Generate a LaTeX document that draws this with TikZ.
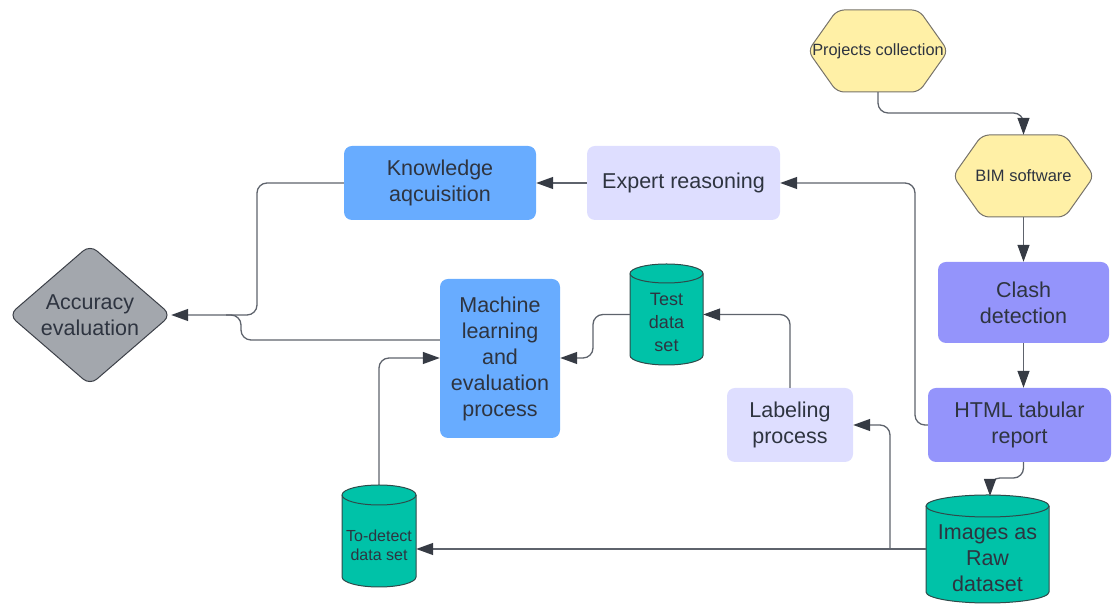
\documentclass[tikz,border=0pt]{standalone}
\usepackage{fontspec}
\setmainfont{Liberation Sans}
\usetikzlibrary{arrows.meta,calc}

\definecolor{txt}{HTML}{2E3440}
\definecolor{wire}{HTML}{5E636C}
\definecolor{tipc}{HTML}{363B44}
\definecolor{hexfill}{HTML}{FFF0A6}
\definecolor{hexline}{HTML}{77736A}
\definecolor{bluebox}{HTML}{68ACFF}
\definecolor{purplebox}{HTML}{9494FB}
\definecolor{lilacbox}{HTML}{DEDEFF}
\definecolor{dbfill}{HTML}{00C2A8}
\definecolor{dbline}{HTML}{2F4A4A}
\definecolor{diafill}{HTML}{A3A7AD}
\definecolor{dialine}{HTML}{3C4048}

% cylinder outline: centre x, centre y, width, height, ellipse radius
\newcommand\dbshape[5]{%
  \begin{scope}[shift={(#1,#2)}]
    \filldraw[fill=dbfill,draw=dbline,line width=1pt]
      (-#3/2,#4/2-#5) -- (-#3/2,-#4/2+#5)
      arc[start angle=180,end angle=360,x radius=#3/2,y radius=#5]
      -- (#3/2,#4/2-#5)
      arc[start angle=0,end angle=180,x radius=#3/2,y radius=#5] -- cycle;
    \draw[draw=dbline,line width=1pt] (-#3/2,#4/2-#5)
      arc[start angle=180,end angle=360,x radius=#3/2,y radius=#5];
  \end{scope}}

% hexagon outline: centre x, centre y, width, height, slant
\newcommand\hexshape[5]{%
  \begin{scope}[shift={(#1,#2)}]
    \filldraw[fill=hexfill,draw=hexline,line width=1pt,rounded corners=7pt]
      (-#3/2,0) -- (-#3/2+#5,#4/2) -- (#3/2-#5,#4/2) -- (#3/2,0)
      -- (#3/2-#5,-#4/2) -- (-#3/2+#5,-#4/2) -- cycle;
  \end{scope}}

\tikzset{
  bigfont/.style={font=\fontsize{21.5}{26}\selectfont},
  box/.style={rectangle,rounded corners=8pt,inner sep=0pt,align=center,
    text=txt,bigfont},
  frame/.style={rectangle,inner sep=0pt,align=center,text=txt},
  wire/.style={draw=wire,line width=1.3pt,rounded corners=10pt},
  arr/.style={wire,-{Triangle[length=17pt,width=12pt,color=tipc]}},
}

\begin{document}
\begin{tikzpicture}[x=1pt,y=1pt]
\useasboundingbox (0,0) rectangle (1112,604);

% ---- drawn outlines for the non-rectangular shapes ----
\hexshape{878}{553}{140}{82}{29}
\hexshape{1023.5}{428}{141}{82}{29}
\dbshape{987.5}{55}{123}{108}{11}
\dbshape{666.5}{289.5}{73}{101}{9.5}
\dbshape{379}{68}{74}{102}{10}
\filldraw[fill=diafill,draw=dialine,line width=1pt,rounded corners=9pt]
  (9,289) -- (90,359) -- (171,289) -- (90,219) -- cycle;

% ---- nodes ----
\node[frame,minimum width=140pt,minimum height=82pt,
  font=\fontsize{16.3}{19}\selectfont] (proj) at (878,553) {Projects collection};
\node[frame,minimum width=141pt,minimum height=82pt,
  font=\fontsize{16.5}{19}\selectfont] (bim) at (1023.5,428) {BIM software};
\node[box,fill=purplebox,minimum width=171pt,minimum height=81pt]
  (clash) at (1023.5,301.5) {Clash\\detection};
\node[box,fill=purplebox,minimum width=183pt,minimum height=74pt]
  (html) at (1019.5,179) {HTML tabular\\report};
\node[frame,minimum width=123pt,minimum height=108pt,
  label={[align=center,text=txt,bigfont,yshift=-9pt]center:{Images as\\Raw\\dataset}}]
  (images) at (987.5,55) {};
\node[box,fill=lilacbox,minimum width=126pt,minimum height=74pt]
  (label) at (790,179) {Labeling\\process};
\node[frame,minimum width=73pt,minimum height=101pt,
  label={[align=center,text=txt,font=\fontsize{18}{23}\selectfont,yshift=-8pt]center:{Test\\data\\set}}]
  (test) at (666.5,289.5) {};
\node[box,fill=bluebox,minimum width=120pt,minimum height=159pt]
  (ml) at (500,245.5) {Machine\\learning\\and\\evaluation\\process};
\node[frame,minimum width=74pt,minimum height=102pt,
  label={[align=center,text=txt,font=\fontsize{16}{19}\selectfont,yshift=-9.5pt]center:{To-detect\\data set}}]
  (detect) at (379,68) {};
\node[frame,minimum width=162pt,minimum height=140pt,bigfont]
  (acc) at (90,289) {Accuracy\\evaluation};
\node[box,fill=bluebox,minimum width=192pt,minimum height=74pt]
  (know) at (440,421) {Knowledge\\aqcuisition};
\node[box,fill=lilacbox,minimum width=193pt,minimum height=74pt]
  (expert) at (683.5,421) {Expert reasoning};

% ---- connectors ----
\draw[arr] (proj.south) -- (878,491) -- (1023.5,491) -- (bim.north);
\draw[arr] (bim.south) -- (clash.north);
\draw[arr] (clash.south) -- (clash.south |- html.north);
\draw[arr] (html.west) -- (915,179) -- (915,421) -- (expert.east);
\draw[arr] (html.south -| clash.south) -- (1023.5,126) -- (990,126) -- (990,108);
\draw[arr] (images.west) -- (images.west -| detect.east);
\draw[arr] (890,55) -- (890,179) -- (label.east);
\draw[arr] (label.north) -- (790,289.5) -- (test.east);
\draw[arr] (test.west) -- (593,289.5) -- (593,246) -- (ml.east |- 0,246);
\draw[arr] (detect.north) -- (379,246) -- (ml.west |- 0,246);
\draw[arr] (expert.west) -- (know.east);
\draw[arr] (know.west) -- (257,421) -- (257,289) -- (acc.east);
\draw[wire] (ml.west |- 0,264) -- (241,264) -- (241,289) -- (226,289);
\end{tikzpicture}
\end{document}
